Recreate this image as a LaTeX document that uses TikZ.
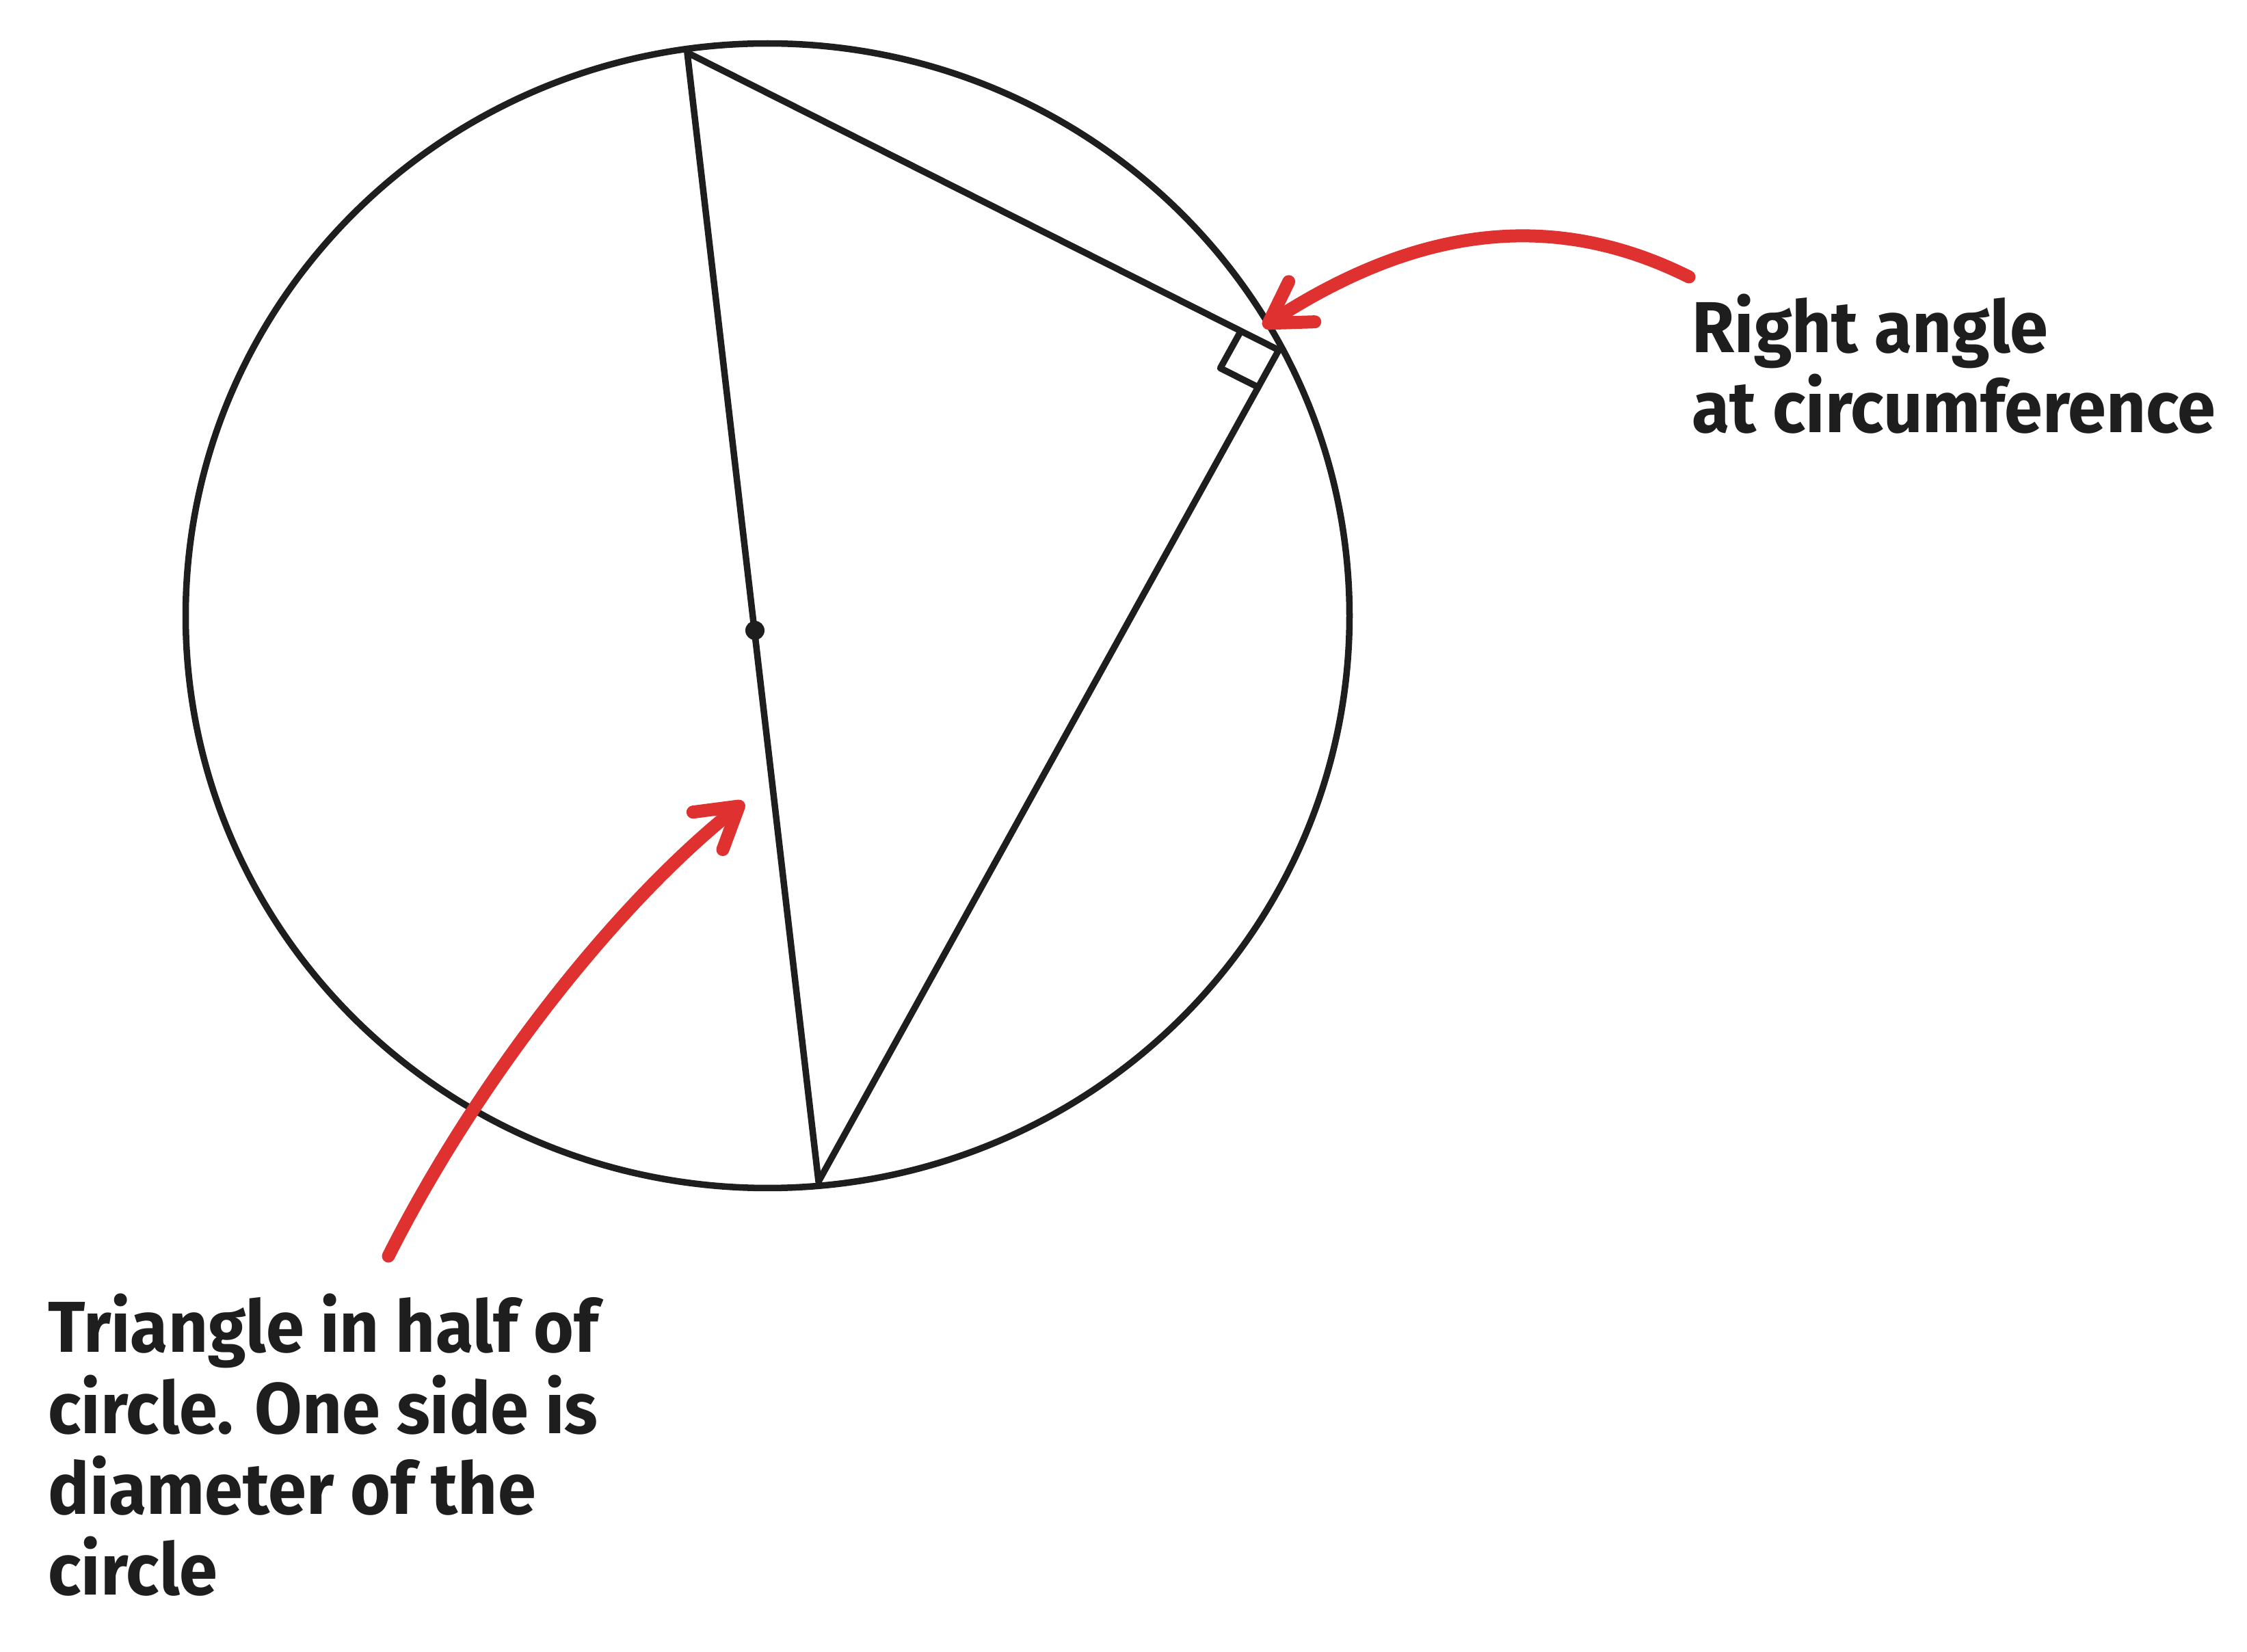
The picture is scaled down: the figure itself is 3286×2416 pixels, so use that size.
\documentclass[tikz,border=0pt]{standalone}
\usepackage{fontspec}
\newfontfamily\hand{Fira Sans}[FakeStretch=0.955]
\usetikzlibrary{arrows.meta,calc}
\definecolor{ink}{HTML}{1E1E1E}
\definecolor{redpen}{HTML}{E03131}
\begin{document}
\begin{tikzpicture}[x=0.01cm,y=-0.01cm,
  shapeline/.style={draw=ink, line width=0.095cm, line cap=round, line join=round},
  callout/.style={draw=redpen, line width=0.19cm, line cap=round,
    -{Straight Barb[length=0.58cm,width=0.70cm,round]}},
  note/.style={font=\hand\bfseries\fontsize{30}{30}\selectfont, text=ink, anchor=base west, inner sep=0pt}]
\useasboundingbox[fill=white] (0,0) rectangle (3286,2416);
% circle
\coordinate (ctr) at (1122.5,900.5);
\draw[shapeline] (ctr) ellipse [x radius=8.505cm, y radius=8.365cm];
% triangle
\coordinate (top) at (1005,77);
\coordinate (bot) at (1197,1728);
\coordinate (rv) at (1870,512);
\coordinate (mid) at (1104,922);
\draw[shapeline] (top) -- (bot) -- (rv) -- cycle;
\fill[ink] (mid) circle[radius=0.14cm];
% right angle mark
\coordinate (ra1) at ($(rv)!0.62cm!(top)$);
\coordinate (ra2) at ($(rv)!0.62cm!(bot)$);
\coordinate (ra3) at ($(ra1)+(ra2)-(rv)$);
\draw[shapeline] (ra1) -- (ra3) -- (ra2);
% callout arrows
\coordinate (a1s) at (2470,405);
\coordinate (a1e) at (1847,478);
\draw[callout] (a1s) .. controls (2260,300) and (2060,340) .. (a1e);
\coordinate (a2s) at (568,1837);
\coordinate (a2e) at (1088,1173);
\draw[callout] (a2s) .. controls (703,1570) and (906,1318) .. (a2e);
% texts
\node[note] (rt1) at (2474,516) {Right angle};
\node[note] (rt2) at (2474,633) {at circumference};
\node[note] (lt1) at (70,1978) {Triangle in half of};
\node[note] (lt2) at (70,2096) {circle. One side is};
\node[note] (lt3) at (70,2214) {diameter of the};
\node[note] (lt4) at (70,2332) {circle};
\end{tikzpicture}
\end{document}
